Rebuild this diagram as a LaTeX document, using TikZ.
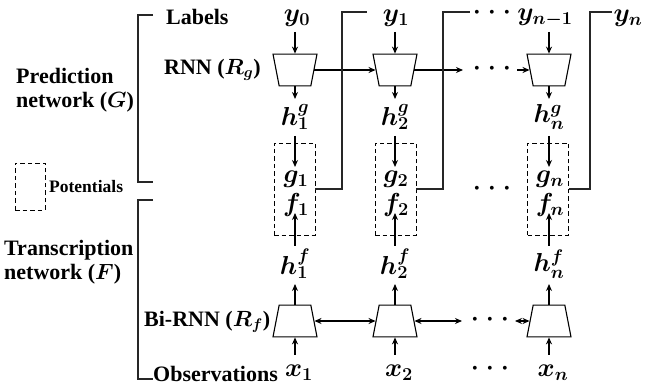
\RequirePackage{fix-cm}
\documentclass[tikz,border=0pt]{standalone}
\usepackage{bm}
\usepackage{fontspec}
\setmainfont{Liberation Serif}
\usetikzlibrary{shapes.geometric,arrows.meta}
\tikzset{
  lbl/.style={font=\fontsize{22}{24}\selectfont\bfseries, inner sep=0pt, anchor=west, align=left},
  var/.style={font=\fontsize{26}{30}\selectfont, inner sep=0.5pt},
  tip/.tip={Stealth[length=7pt,width=6pt]},
  arr/.style={-tip, line width=1.8pt},
  darr/.style={tip-tip, line width=1.8pt},
  conn/.style={line width=1.1pt, draw=black!85},
  pot/.style={draw, dash pattern=on 4.5pt off 3pt, line width=0.9pt, minimum width=41pt, minimum height=92pt, inner sep=0pt},
  trapup/.style={trapezium, draw, line width=1.1pt, trapezium angle=79, minimum width=44pt, minimum height=25pt, inner sep=1pt},
  trapdown/.style={trapup, shape border rotate=180},
  dots/.style={font=\fontsize{16}{18}\selectfont, inner sep=0pt},
}
\newcommand{\tdots}{\textbullet\hspace{9.4pt}\textbullet\hspace{9.4pt}\textbullet}
\begin{document}
\begin{tikzpicture}[x=1pt,y=-1pt]
\useasboundingbox (0,0) rectangle (646,390);
% left labels
\node[lbl] (labels) at (166,17) {Labels};
\node[lbl] (rnn) at (164,70) {RNN ($\bm{R_g}$)};
\node[lbl] (pred) at (16,90) {Prediction\\network ($\bm{G}$)};
\node[draw, dash pattern=on 4.5pt off 3pt, line width=0.9pt, minimum width=30pt, minimum height=47pt, inner sep=0pt] (potbox) at (30,186.5) {};
\node[lbl, font=\fontsize{17.5}{20}\selectfont\bfseries] (potlbl) at (49,187) {Potentials};
\node[lbl] (trans) at (4,262) {Transcription\\network ($\bm{F}$)};
\node[lbl] (birnn) at (144,322) {Bi-RNN ($\bm{R_f}$)};
\node[lbl] (obs) at (153,374) {Observations};
% brackets
\draw[conn] (153,15) -- (138,15) -- (138,182) -- (153,182);
\draw[conn] (153,200) -- (138,200) -- (138,379) -- (153,379);
% top row labels
\node[var] (y0) at (297,18) {$\bm{y_0}$};
\node[var] (y1) at (396,18) {$\bm{y_1}$};
\node[var] (yn1) at (545,18) {$\bm{y_{n-1}}$};
\node[var] (yn) at (628,18) {$\bm{y_n}$};
% RNN trapezia
\node[trapdown] (T1) at (295,70) {};
\node[trapdown] (T2) at (395,70) {};
\node[trapdown] (Tn) at (549,70) {};
% h^g
\node[var] (hg1) at (295,117) {$\bm{h_1^g}$};
\node[var] (hg2) at (395,117) {$\bm{h_2^g}$};
\node[var] (hgn) at (549,117) {$\bm{h_n^g}$};
% potentials
\node[pot] (P1) at (294.5,189) {};
\node[pot] (P2) at (395.5,189) {};
\node[pot] (Pn) at (548,189) {};
\node[var] (g1) at (296,179) {$\bm{g_1}$};
\node[var] (g2) at (396,179) {$\bm{g_2}$};
\node[var] (gn) at (550,179) {$\bm{g_n}$};
\node[var] (f1) at (296,205) {$\bm{f_1}$};
\node[var] (f2) at (396,205) {$\bm{f_2}$};
\node[var] (fn) at (550,205) {$\bm{f_n}$};
% h^f
\node[var] (hf1) at (295,264) {$\bm{h_1^f}$};
\node[var] (hf2) at (395,264) {$\bm{h_2^f}$};
\node[var] (hfn) at (549,264) {$\bm{h_n^f}$};
% Bi-RNN trapezia
\node[trapup] (B1) at (295,321) {};
\node[trapup] (B2) at (395,321) {};
\node[trapup] (Bn) at (549,321) {};
% observations
\node[var] (x1) at (299,373) {$\bm{x_1}$};
\node[var] (x2) at (399,373) {$\bm{x_2}$};
\node[var] (xn) at (553,373) {$\bm{x_n}$};
% dots
\node[dots] (d0) at (492,14) {\tdots};
\node[dots] (d1) at (492,70) {\tdots};
\node[dots] (d2) at (492,190) {\tdots};
\node[dots] (d3) at (490,321) {\tdots};
\node[dots] (d4) at (490,370) {\tdots};
% vertical arrows
\foreach \c in {1,2,n}{
  \draw[arr] (T\c.north |- 0,32) -- (T\c.north);
  \draw[arr] (T\c.south) -- (T\c.south |- 0,99);
  \draw[arr] (T\c.south |- 0,136) -- (T\c.south |- 0,167);
  \draw[arr] (B\c.north |- 0,246) -- (B\c.north |- 0,213);
  \draw[arr] (B\c.north) -- (B\c.north |- 0,284);
  \draw[arr] (B\c.south |- 0,355) -- (B\c.south);
}
% horizontal arrows
\coordinate (ra) at (463,70);
\coordinate (rb) at (517,70);
\draw[arr] (T1.east) -- (T2.west);
\draw[arr] (T2.east) -- (ra);
\draw[arr] (rb) -- (Tn.west);
\coordinate (ba) at (462,321);
\coordinate (bb) at (515,321);
\draw[darr] (B1.east) -- (B2.west);
\draw[darr] (B2.east) -- (ba);
\draw[darr] (bb) -- (Bn.west);
% feedback connectors
\coordinate (k1) at (342,12); \coordinate (e1) at (367,12);
\coordinate (k2) at (443,12); \coordinate (e2) at (470,12);
\coordinate (k3) at (590,12); \coordinate (e3) at (612,12);
\draw[conn] (P1.east) -| (k1) -- (e1);
\draw[conn] (P2.east) -| (k2) -- (e2);
\draw[conn] (Pn.east) -| (k3) -- (e3);
\end{tikzpicture}
\end{document}
